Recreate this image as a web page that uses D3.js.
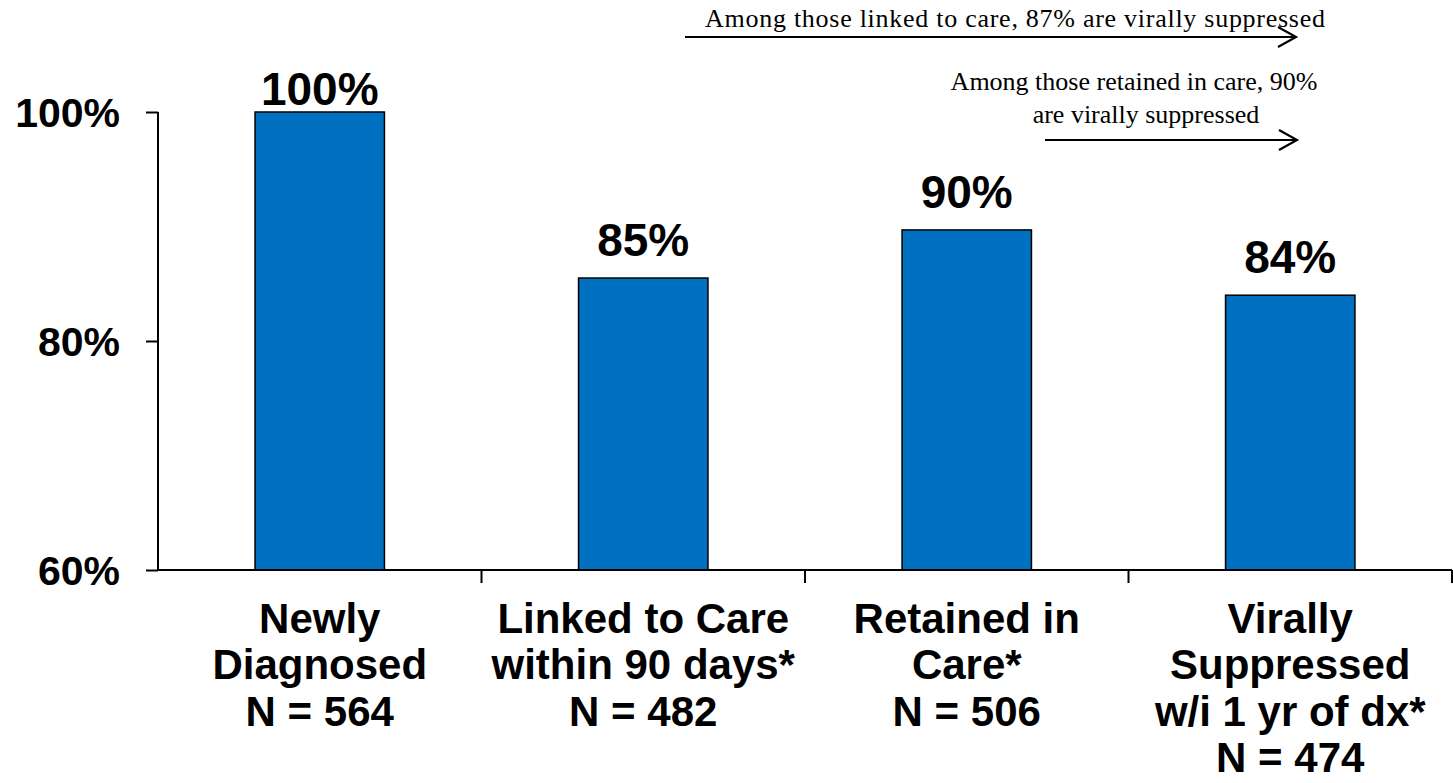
<!DOCTYPE html>
<html>
<head>
<meta charset="utf-8">
<script src="https://cdn.jsdelivr.net/npm/d3@7"></script>
<style>
  html, body { margin: 0; padding: 0; background: #fff; }
  svg { display: block; }
</style>
</head>
<body>
<svg id="chart" width="1453" height="783"></svg>
<script>
// ---- data ----
const categories = ["Newly Diagnosed", "Linked to Care within 90 days*", "Retained in Care*", "Virally Suppressed w/i 1 yr of dx*"];
const categoryLines = [
  ["Newly", "Diagnosed", "N = 564"],
  ["Linked to Care", "within 90 days*", "N = 482"],
  ["Retained in", "Care*", "N = 506"],
  ["Virally", "Suppressed", "w/i 1 yr of dx*", "N = 474"]
];
const values = [100, 85.5, 89.7, 84.0];
const valueLabels = ["100%", "85%", "90%", "84%"];
const yTicks = [60, 80, 100];
const yTickLabels = ["60%", "80%", "100%"];
const annotations = [
  { lines: ["Among those linked to care, 87% are virally suppressed"] },
  { lines: ["Among those retained in care, 90%", "are virally suppressed"] }
];

// ---- layout ----
const svg = d3.select("#chart");
const mLeft = 158, mRight = 1452, mTop = 112, mBottom = 570;

const x = d3.scaleBand().domain(categories).range([mLeft, mRight])
  .paddingInner(0.6).paddingOuter(0.3);
const y = d3.scaleLinear().domain([60, 100]).range([mBottom, mTop]);

// bars
svg.append("g").selectAll("rect").data(values).join("rect")
  .attr("x", (d, i) => x(categories[i]))
  .attr("y", d => y(d))
  .attr("width", x.bandwidth())
  .attr("height", d => y(60) - y(d))
  .attr("fill", "#0070C0")
  .attr("stroke", "#000")
  .attr("stroke-width", 1.5);

// value labels
svg.append("g").selectAll("text").data(values).join("text")
  .attr("x", (d, i) => x(categories[i]) + x.bandwidth() / 2)
  .attr("y", d => Math.max(y(d) - 22, 105))
  .attr("text-anchor", "middle")
  .attr("font-family", "Liberation Sans, Arial, sans-serif")
  .attr("font-weight", "bold")
  .attr("font-size", 46)
  .attr("fill", "#000")
  .text((d, i) => valueLabels[i]);

// y axis
const yAxis = d3.axisLeft(y).tickValues(yTicks).tickSize(12)
  .tickFormat((d, i) => yTickLabels[i]);
const gy = svg.append("g").attr("transform", `translate(${mLeft},0)`).call(yAxis);
gy.select(".domain").attr("stroke", "#000").attr("stroke-width", 2)
  .attr("d", `M0,${mTop}V${mBottom}`);
gy.selectAll(".tick line").attr("stroke", "#000").attr("stroke-width", 2);
gy.selectAll(".tick text")
  .attr("x", -38)
  .attr("dy", "0.36em")
  .attr("font-family", "Liberation Sans, Arial, sans-serif")
  .attr("font-weight", "bold")
  .attr("font-size", 41)
  .attr("fill", "#000");

// x axis (ticks between categories)
const gx = svg.append("g");
gx.append("line")
  .attr("x1", mLeft).attr("x2", mRight)
  .attr("y1", mBottom).attr("y2", mBottom)
  .attr("stroke", "#000").attr("stroke-width", 2);
gx.selectAll("line.tk").data(d3.range(1, categories.length + 1)).join("line")
  .attr("class", "tk")
  .attr("x1", i => x(categories[i - 1]) - x.paddingOuter() * x.step() + x.step())
  .attr("x2", i => x(categories[i - 1]) - x.paddingOuter() * x.step() + x.step())
  .attr("y1", mBottom).attr("y2", mBottom + 13)
  .attr("stroke", "#000").attr("stroke-width", 2);

// category labels
const catG = svg.append("g").selectAll("text").data(categoryLines).join("text")
  .attr("text-anchor", "middle")
  .attr("font-family", "Liberation Sans, Arial, sans-serif")
  .attr("font-weight", "bold")
  .attr("font-size", 42)
  .attr("fill", "#000");
catG.each(function(lines, i) {
  const cx = x(categories[i]) + x.bandwidth() / 2;
  d3.select(this).selectAll("tspan").data(lines).join("tspan")
    .attr("x", cx)
    .attr("y", (d, j) => 633 + j * 46.3)
    .text(d => d);
});

// annotations
const annG = svg.append("g")
  .attr("font-family", "Liberation Serif, Times New Roman, serif")
  .attr("font-size", 26)
  .attr("fill", "#000");
annG.append("text")
  .attr("x", 705).attr("y", 27)
  .attr("textLength", 620).attr("lengthAdjust", "spacing")
  .text(annotations[0].lines[0]);
annG.append("text")
  .attr("x", 1134).attr("y", 90)
  .attr("text-anchor", "middle")
  .text(annotations[1].lines[0]);
annG.append("text")
  .attr("x", 1146).attr("y", 123)
  .attr("text-anchor", "middle")
  .text(annotations[1].lines[1]);

function arrow(x1, x2, yy) {
  const g = svg.append("g").attr("stroke", "#000").attr("stroke-width", 2.2).attr("fill", "none");
  g.append("line").attr("x1", x1).attr("x2", x2).attr("y1", yy).attr("y2", yy);
  g.append("path").attr("d", `M${x2 - 18},${yy - 10}L${x2},${yy}L${x2 - 18},${yy + 10}`);
}
arrow(685, 1296, 37);
arrow(1045, 1297, 140);
</script>
</body>
</html>
